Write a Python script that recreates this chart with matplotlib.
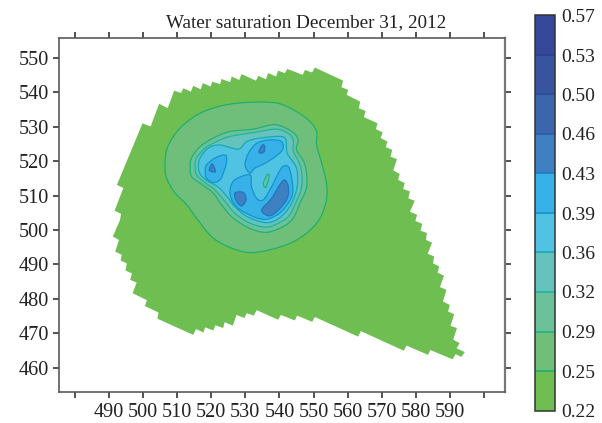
import matplotlib
matplotlib.use('Agg')
import matplotlib.pyplot as plt
from matplotlib.colors import BoundaryNorm, ListedColormap
from matplotlib.cm import ScalarMappable
from matplotlib.patches import PathPatch
from matplotlib.path import Path

plt.rcParams['font.family'] = ['Liberation Serif', 'DejaVu Serif']

levels = [0.22, 0.25, 0.29, 0.32, 0.36, 0.39, 0.43, 0.46, 0.50, 0.53, 0.57]
band_colors = ['#6fbe52', '#6fbe7a', '#6cc09a', '#66c2bd', '#50c3e3', '#38b1e8',
               '#3f80c3', '#3b66ae', '#38539f', '#37479a']
line_colors = ['#1eb070', '#1fb27a', '#1fb59a', '#16a9b3', '#1095cc', '#1f77bb',
               '#2c5aa5', '#2b4a9a', '#2b3f90', '#2b3a8a']

x_ticks = list(range(480, 610, 10))
x_labels = ['', '490', '500', '510', '520', '530', '540', '550', '560', '570', '580', '590', '']
y_ticks = list(range(460, 560, 10))

# reservoir outline (gridded edge, saturation 0.22 and up)
field_x = [491.1, 492.9, 491.8, 493.7, 493.4, 495.2, 494.8, 496.7, 496.2, 498.1, 496.9, 501.1, 500.5, 504.5,
           504.2, 514.7, 515.5, 517.7, 518.2, 520.6, 521.2, 523.5, 523.9, 526.3, 527.4, 529.7, 530.4, 532.5,
           533.3, 539.6, 540.4, 544.5, 545.2, 549.6, 550.4, 563.1, 563.9, 576.5, 577.3, 583.6, 584.3, 590.8,
           591.7, 593.4, 594.4, 592.0, 592.9, 591.0, 592.1, 590.2, 591.3, 589.5, 590.0, 588.0, 589.0, 587.1,
           588.3, 586.4, 586.9, 585.1, 585.4, 583.5, 584.8, 583.0, 583.3, 581.4, 581.9, 579.9, 580.4, 578.3,
           579.7, 577.8, 578.3, 576.3, 576.8, 574.8, 575.3, 573.4, 574.5, 572.6, 573.1, 571.2, 571.7, 569.7,
           570.3, 568.3, 568.8, 564.8, 565.3, 563.3, 563.7, 559.7, 560.2, 558.2, 558.7, 550.4, 549.6, 547.5,
           546.8, 542.3, 541.6, 539.6, 539.0, 536.7, 536.0, 533.8, 533.1, 528.9, 528.2, 526.0, 525.5, 523.0,
           522.6, 520.3, 519.8, 517.5, 516.9, 514.7, 514.0, 511.8, 511.1, 509.1, 507.2, 504.7, 502.2, 499.8,
           492.3, 494.2, 491.6, 493.5, 493.2]
field_y = [498.1, 497.1, 493.7, 492.8, 491.1, 490.3, 488.2, 487.4, 485.5, 484.7, 481.6, 479.6, 477.9, 476.0,
           474.2, 469.5, 471.2, 470.2, 471.7, 470.8, 472.3, 471.5, 473.2, 472.2, 475.3, 474.4, 475.8, 475.1,
           476.7, 473.9, 475.3, 473.7, 475.1, 473.3, 474.7, 469.0, 470.6, 464.9, 466.4, 463.7, 465.1, 462.4,
           463.9, 463.1, 464.5, 465.6, 467.1, 468.1, 471.5, 472.1, 475.5, 476.3, 478.2, 479.2, 482.6, 483.4,
           486.7, 487.6, 489.4, 490.3, 492.3, 493.1, 496.3, 497.1, 499.1, 499.8, 501.8, 502.6, 504.4, 505.3,
           508.5, 509.2, 511.2, 511.9, 513.6, 514.6, 516.3, 517.3, 520.6, 521.3, 523.3, 524.1, 525.7, 526.7,
           528.4, 529.3, 531.0, 532.8, 534.6, 535.4, 537.3, 539.3, 540.7, 541.5, 543.4, 547.2, 545.8, 546.5,
           545.1, 546.8, 545.6, 546.3, 544.6, 545.6, 543.8, 544.8, 543.4, 545.3, 543.6, 544.6, 543.0, 543.9,
           542.4, 543.1, 541.7, 542.7, 540.9, 541.9, 540.2, 541.2, 539.8, 540.5, 535.4, 536.7, 530.1, 531.0,
           513.1, 512.2, 505.6, 504.7, 502.9]

# contour outlines
c025_x = [506.4, 506.9, 508.9, 512.3, 517.7, 524.5, 531.3, 539.2, 545.0, 548.9, 550.9, 550.9, 552.4, 553.8, 553.8,
          551.9, 548.0, 542.1, 533.3, 527.4, 520.6, 515.7, 512.8, 509.4, 506.9]
c025_y = [518.9, 523.3, 527.2, 531.0, 534.4, 536.4, 537.1, 536.9, 534.4, 531.5, 528.6, 524.7, 519.4, 513.6, 508.8,
          503.4, 499.1, 495.7, 493.5, 494.2, 497.6, 503.4, 507.3, 510.7, 515.0]
c029_x = [513.8, 514.2, 516.7, 520.6, 525.5, 532.3, 538.7, 543.6, 545.5, 545.0, 547.5, 548.0, 546.0, 544.0, 541.1,
          536.2, 531.3, 526.5, 523.0, 520.6, 516.7, 514.2]
c029_y = [518.0, 520.9, 524.2, 526.7, 528.6, 529.3, 530.6, 528.6, 526.2, 523.3, 518.9, 512.6, 507.8, 503.4, 501.0,
          499.3, 500.5, 503.4, 507.3, 510.7, 513.6, 515.5]
c032_x = [515.2, 515.7, 518.2, 521.6, 525.5, 532.3, 539.2, 543.1, 544.1, 544.1, 546.2, 546.5, 544.5, 542.6, 539.7,
          536.2, 531.3, 526.9, 524.0, 521.1, 517.7, 515.7]
c032_y = [518.4, 520.9, 523.8, 525.7, 527.2, 528.3, 529.3, 527.7, 525.7, 522.8, 518.4, 512.6, 507.3, 503.9, 502.0,
          500.8, 502.0, 504.9, 508.3, 511.6, 514.1, 516.0]
c036_x = [516.2, 516.7, 519.1, 522.6, 527.9, 530.4, 534.3, 540.1, 541.9, 542.3, 545.0, 545.2, 543.6, 541.1, 538.2,
          535.3, 530.4, 526.9, 525.0, 522.1, 518.6, 516.7]
c036_y = [518.4, 520.9, 523.8, 524.7, 523.5, 525.7, 526.7, 527.2, 526.2, 522.3, 518.0, 512.6, 507.8, 504.4, 502.5,
          502.2, 503.9, 506.8, 509.2, 512.4, 514.4, 516.3]
c039a_x = [518.2, 518.6, 521.1, 524.0, 524.5, 523.7, 522.6, 520.6, 518.6]
c039a_y = [517.0, 518.9, 520.9, 521.8, 519.9, 517.0, 514.6, 513.8, 515.0]
c039b_x = [529.9, 530.9, 533.3, 537.2, 540.6, 540.9, 538.2, 534.8, 532.8, 531.3]
c039b_y = [518.9, 522.3, 525.2, 526.2, 525.7, 523.3, 520.9, 518.9, 518.0, 516.5]
c039c_x = [525.5, 526.9, 531.3, 531.8, 533.3, 535.3, 537.7, 540.6, 542.6, 543.6, 543.9, 542.6, 540.1, 536.2, 532.3,
           527.9, 526.0]
c039c_y = [511.7, 514.6, 516.0, 512.6, 509.2, 508.8, 512.6, 518.0, 518.4, 515.0, 510.7, 507.8, 504.9, 503.1, 503.9,
           506.3, 508.8]
c032_low_x = [535.3, 536.4, 537.0, 536.0]
c032_low_y = [513.6, 516.0, 515.7, 512.4]
c043a_x = [519.4, 520.3, 521.2, 520.1]
c043a_y = [517.5, 519.2, 517.0, 517.0]
c043b_x = [534.0, 535.0, 535.7, 535.5, 534.6]
c043b_y = [522.8, 524.7, 524.3, 522.8, 522.3]
c043c_x = [526.9, 529.4, 530.2, 528.9, 527.4]
c043c_y = [510.7, 510.9, 508.8, 507.0, 508.3]
c043d_x = [534.8, 537.7, 541.1, 542.6, 542.3, 539.7, 537.0]
c043d_y = [505.8, 509.2, 514.4, 512.6, 509.2, 505.8, 504.1]


def smooth_path(xs, ys):
    # closed curve through the read points (Catmull-Rom written as Bezier segments)
    n = len(xs)
    verts = [(xs[0], ys[0])]
    codes = [Path.MOVETO]
    for i in range(n):
        x0, y0 = xs[i - 1], ys[i - 1]
        x1, y1 = xs[i], ys[i]
        x2, y2 = xs[(i + 1) % n], ys[(i + 1) % n]
        x3, y3 = xs[(i + 2) % n], ys[(i + 2) % n]
        verts += [(x1 + (x2 - x0) / 6, y1 + (y2 - y0) / 6), (x2 - (x3 - x1) / 6, y2 - (y3 - y1) / 6), (x2, y2)]
        codes += [Path.CURVE4] * 3
    return Path(verts, codes)


fig = plt.figure(figsize=(6.02, 4.23), dpi=100)
ax = fig.add_axes([59 / 602, 1 - 392 / 423, 446 / 602, 354 / 423])

ax.fill(field_x, field_y, color=band_colors[0], lw=0)

# (outline, band index, contour line index) painted from the outside in
regions = [
    (c025_x, c025_y, 1, 0), (c029_x, c029_y, 2, 1), (c032_x, c032_y, 3, 2), (c036_x, c036_y, 4, 3),
    (c039a_x, c039a_y, 5, 4), (c039b_x, c039b_y, 5, 4), (c039c_x, c039c_y, 5, 4),
    (c032_low_x, c032_low_y, 3, 1),
    (c043a_x, c043a_y, 6, 5), (c043b_x, c043b_y, 6, 5), (c043c_x, c043c_y, 6, 5), (c043d_x, c043d_y, 6, 5),
]
for xs, ys, k, m in regions:
    ax.add_patch(PathPatch(smooth_path(xs, ys), facecolor=band_colors[k], edgecolor=line_colors[m], lw=0.9))

ax.set_xlim(475.3, 606.2)
ax.set_ylim(452.9, 555.8)
ax.set_xticks(x_ticks)
ax.set_xticklabels(x_labels)
ax.set_yticks(y_ticks)
ax.tick_params(axis='both', direction='out', length=4, width=1.1, color='#222222', labelsize=14.6,
               labelcolor='#222222', top=True, right=True)
ax.tick_params(axis='x', pad=4)
ax.tick_params(axis='y', pad=3)
for spine in ax.spines.values():
    spine.set_color('#5a5a5a')
    spine.set_linewidth(1.2)
ax.spines['right'].set_linewidth(1.6)
ax.spines['right'].set_color('#777777')

fig.text(306.5 / 602, 1 - 27 / 423, 'Water saturation December 31, 2012', fontsize=13.8, color='#222222',
         ha='center', va='baseline')

# colour bar
cax = fig.add_axes([534.5 / 602, 1 - 410.5 / 423, 20 / 602, 395 / 423])
norm = BoundaryNorm(levels, len(band_colors))
sm = ScalarMappable(norm=norm, cmap=ListedColormap(band_colors))
cb = fig.colorbar(sm, cax=cax, boundaries=levels, spacing='uniform', ticks=levels)
cb.set_ticklabels([f'{v:.2f}' for v in levels])
cb.ax.tick_params(length=0, labelsize=14, pad=5, labelcolor='#222222')
cb.outline.set_edgecolor('#333333')
cb.outline.set_linewidth(1.1)
for v, c in zip(levels[1:-1], line_colors):
    cb.ax.axhline(v, color=c, lw=1.2)

fig.savefig('out.png', dpi=100)
